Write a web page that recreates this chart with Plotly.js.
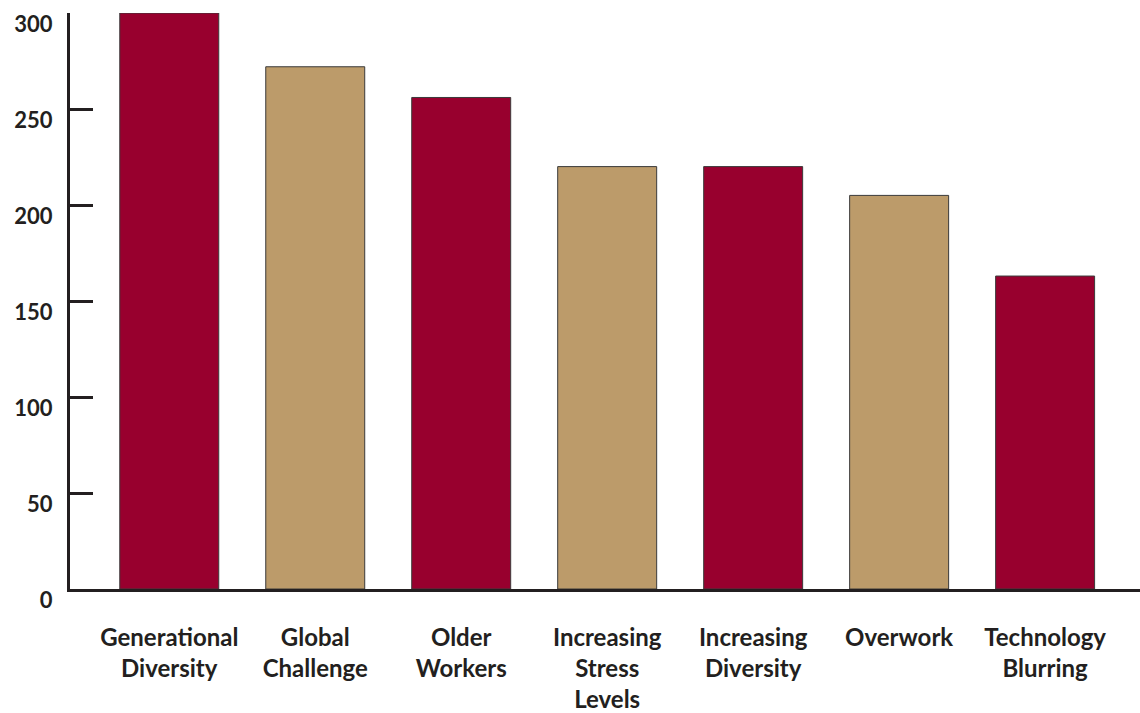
<!DOCTYPE html>
<html>
<head>
<meta charset="utf-8">
<script src="https://cdn.plot.ly/plotly-3.0.1.min.js"></script>
<style>html,body{margin:0;padding:0;background:#fff}#chart{width:1140px;height:713px}</style>
</head>
<body>
<div id="chart"></div>
<script>
var categories = ["Generational<br>Diversity", "Global<br>Challenge", "Older<br>Workers", "Increasing<br>Stress<br>Levels", "Increasing<br>Diversity", "Overwork", "Technology<br>Blurring"];
var values = [300, 272, 256, 220, 220, 205, 163];
var barColors = ["#98002E", "#BC9B6A", "#98002E", "#BC9B6A", "#98002E", "#BC9B6A", "#98002E"];
var yTicks = [0, 50, 100, 150, 200, 250, 300];

var trace = {
  type: "bar",
  x: categories.map(function(c, i){ return i; }),
  y: values,
  marker: {color: barColors, line: {color: "#3a3a3a", width: 1}},
  hoverinfo: "skip"
};

var layout = {
  width: 1140, height: 713,
  margin: {l: 70, r: 0, t: 13, b: 124},
  paper_bgcolor: "#fff", plot_bgcolor: "#fff",
  showlegend: false,
  bargap: 0.322,
  font: {family: "Lato, 'Open Sans', sans-serif", color: "#231f20"},
  xaxis: {
    range: [-0.68, 6.65],
    tickmode: "array",
    tickvals: categories.map(function(c, i){ return i; }),
    ticktext: categories,
    ticks: "",
    showline: true, linecolor: "#231f20", linewidth: 3,
    showgrid: false, zeroline: false,
    tickfont: {family: "Lato, sans-serif", size: 24, color: "#231f20", weight: "bold"},
    ticklabelstandoff: 25
  },
  yaxis: {
    range: [0, 300],
    tickmode: "array",
    tickvals: yTicks,
    ticktext: yTicks.map(String),
    ticks: "inside", ticklen: 23, tickwidth: 3, tickcolor: "#231f20",
    showline: true, linecolor: "#231f20", linewidth: 3,
    showgrid: false, zeroline: false,
    tickfont: {family: "Lato, sans-serif", size: 22, color: "#231f20", weight: "bold"},
    ticklabelstandoff: 10,
    ticklabelshift: 11,
    ticklabeloverflow: "allow"
  }
};

Plotly.newPlot("chart", [trace], layout, {displayModeBar: false, staticPlot: true});
</script>
</body>
</html>
